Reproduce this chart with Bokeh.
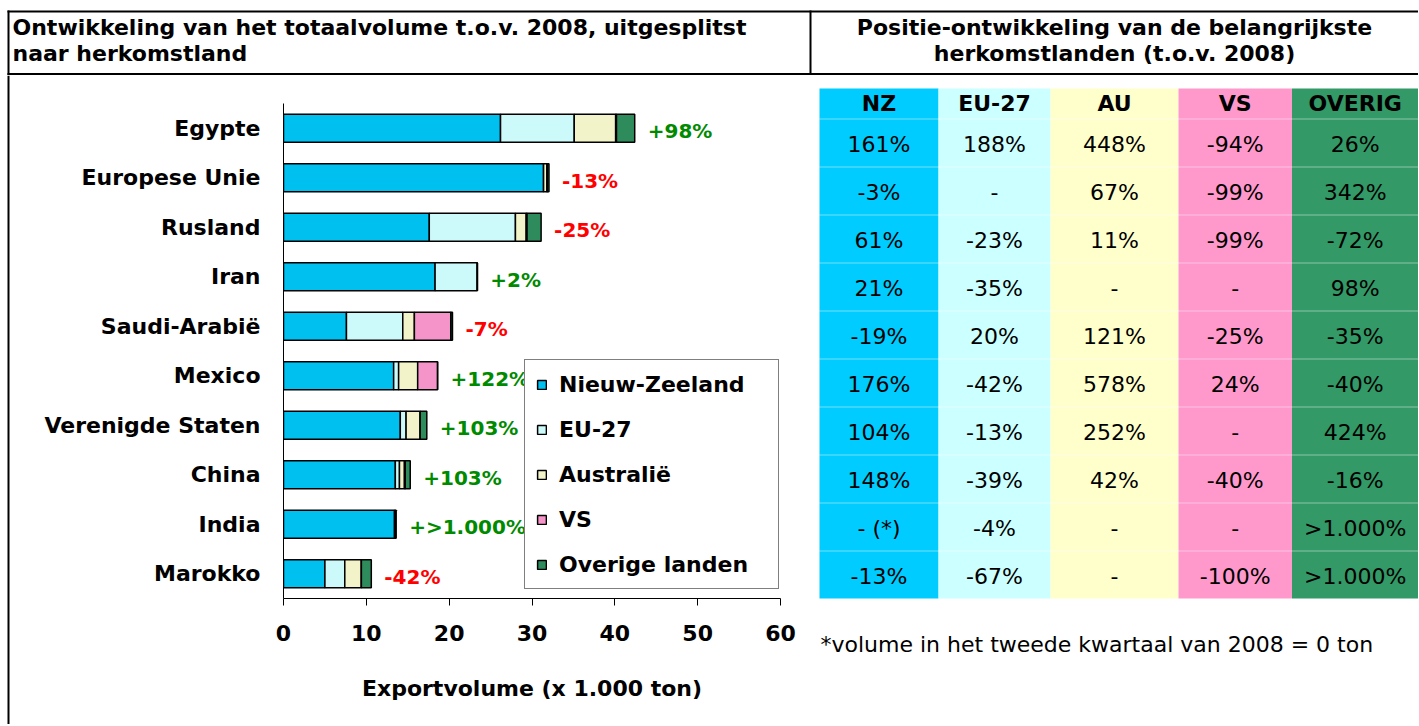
from bokeh.plotting import figure
from bokeh.models import (Range1d, FactorRange, ColumnDataSource, Legend, LegendItem,
                          SingleIntervalTicker)
from bokeh.layouts import row, column
from bokeh.embed import file_html
from bokeh.resources import INLINE
from bokeh.core.properties import value

# ---------------- data ----------------
countries = ["Egypte", "Europese Unie", "Rusland", "Iran", "Saudi-Arabië", "Mexico",
             "Verenigde Staten", "China", "India", "Marokko"]
nz = [26.2, 31.4, 17.6, 18.3, 7.6, 13.3, 14.1, 13.5, 13.4, 5.0]
eu27 = [8.9, 0.0, 10.4, 5.1, 6.8, 0.6, 0.7, 0.5, 0.1, 2.4]
au = [5.0, 0.4, 1.3, 0.0, 1.4, 2.3, 1.7, 0.6, 0.0, 2.0]
vs = [0.1, 0.05, 0.1, 0.0, 4.4, 2.4, 0.0, 0.1, 0.0, 0.0]
overig = [2.2, 0.2, 1.7, 0.0, 0.2, 0.0, 0.8, 0.6, 0.1, 1.2]
change_labels = ["+98%", "-13%", "-25%", "+2%", "-7%", "+122%", "+103%", "+103%",
                 "+>1.000%", "-42%"]
series_names = ["Nieuw-Zeeland", "EU-27", "Australië", "VS", "Overige landen"]
x_ticks_interval = 10

table_cols = ["NZ", "EU-27", "AU", "VS", "OVERIG"]
nz_pct = ["161%", "-3%", "61%", "21%", "-19%", "176%", "104%", "148%", "- (*)", "-13%"]
eu_pct = ["188%", "-", "-23%", "-35%", "20%", "-42%", "-13%", "-39%", "-4%", "-67%"]
au_pct = ["448%", "67%", "11%", "-", "121%", "578%", "252%", "42%", "-", "-"]
vs_pct = ["-94%", "-99%", "-99%", "-", "-25%", "24%", "-", "-40%", "-", "-100%"]
ov_pct = ["26%", "342%", "-72%", "98%", "-35%", "-40%", "424%", "-16%", ">1.000%", ">1.000%"]

title_left = ["Ontwikkeling van het totaalvolume t.o.v. 2008, uitgesplitst",
              "naar herkomstland"]
title_right = ["Positie-ontwikkeling van de belangrijkste",
               "herkomstlanden (t.o.v. 2008)"]
footnote = "*volume in het tweede kwartaal van 2008 = 0 ton"
x_label = "Exportvolume (x 1.000 ton)"

# ---------------- style / layout ----------------
FONT = "DejaVu Sans"
bar_colors = ["#00C0F0", "#CCF9F9", "#F3F3C9", "#F494C8", "#2E8B5B"]
table_colors = ["#00CCFF", "#CCFFFF", "#FFFFCC", "#FF99CC", "#339966"]
GREEN = "#008A00"
RED = "#FF0000"

W_TOTAL = 1418
H_HDR = 75
H_BODY = 649
W_STRIP = 10
W_CHART = 808
W_TBL = W_TOTAL - W_STRIP - W_CHART


def blank(width, height, xr, yr, **kw):
    f = figure(width=width, height=height, x_range=xr, y_range=yr, min_border=0,
               x_axis_type=None, y_axis_type=None, outline_line_color=None,
               toolbar_location=None, output_backend="svg", frame_align=False, **kw)
    return f


# ---------------- header ----------------
hdr = blank(W_TOTAL, H_HDR, Range1d(0, W_TOTAL), Range1d(H_HDR, 0))
hdr.segment(x0=[7, 7, 8, 810], y0=[11, 73.5, 10, 10], x1=[W_TOTAL, W_TOTAL, 8, 810],
            y1=[11, 73.5, H_HDR, 74], line_color="black", line_width=2)
hdr.text(x=[12, 12], y=[26.5, 52.5], text=title_left, text_font=value(FONT),
         text_font_style="bold", text_font_size="22px", text_baseline="alphabetic",
         text_align="left", text_color="black")
hdr.text(x=[1114, 1114], y=[26.5, 52.5], text=title_right, text_font=value(FONT),
         text_font_style="bold", text_font_size="22px", text_baseline="alphabetic",
         text_align="center", text_color="black")

# ---------------- left border strip ----------------
strip = blank(W_STRIP, H_BODY, Range1d(0, W_STRIP), Range1d(0, 1))
strip.quad(left=[7], right=[9], bottom=[0], top=[1], fill_color="black", line_color=None)

# ---------------- bar chart ----------------
keys = ["nz", "eu27", "au", "vs", "overig"]
totals = [a + b + c + d + e for a, b, c, d, e in zip(nz, eu27, au, vs, overig)]
src = ColumnDataSource(dict(country=countries, nz=nz, eu27=eu27, au=au, vs=vs, overig=overig,
                            total=totals, label=change_labels,
                            label_color=[GREEN if s.startswith("+") else RED for s in change_labels]))

chart = figure(width=W_CHART, height=H_BODY, x_range=Range1d(0, 60),
               y_range=FactorRange(factors=countries[::-1], range_padding=0),
               min_border_left=273, min_border_right=38, min_border_top=28, min_border_bottom=126,
               outline_line_color=None, toolbar_location=None, output_backend="svg",
               frame_align=False)
renderers = chart.hbar_stack(keys, y="country", height=0.57, fill_color=bar_colors,
                             line_color="black", line_width=1.5, source=src)
chart.text(x="total", y="country", text="label", text_color="label_color", source=src,
           x_offset=13, y_offset=3, text_font=value(FONT), text_font_style="bold",
           text_font_size="20px", text_baseline="middle", text_align="left")

chart.xgrid.visible = False
chart.ygrid.visible = False

xa = chart.xaxis[0]
xa.ticker = SingleIntervalTicker(interval=x_ticks_interval, num_minor_ticks=0)
xa.axis_label = x_label
xa.axis_label_text_font = FONT
xa.axis_label_text_font_style = "bold"
xa.axis_label_text_font_size = "22px"
xa.axis_label_text_color = "black"
xa.axis_label_standoff = 32
xa.major_label_text_font = FONT
xa.major_label_text_font_style = "bold"
xa.major_label_text_font_size = "22px"
xa.major_label_text_color = "black"
xa.major_label_standoff = 19
xa.major_tick_out = 7
xa.major_tick_in = 0
xa.minor_tick_line_color = None
xa.axis_line_color = "black"
xa.major_tick_line_color = "black"

ya = chart.yaxis[0]
ya.major_label_text_font = FONT
ya.major_label_text_font_style = "bold"
ya.major_label_text_font_size = "22px"
ya.major_label_text_color = "black"
ya.major_label_standoff = 17
ya.major_tick_line_color = None
ya.minor_tick_line_color = None
ya.axis_line_color = "black"

legend = Legend(items=[LegendItem(label=n, renderers=[r]) for n, r in zip(series_names, renderers)],
                location=(241, 9), padding=11, spacing=19, margin=0,
                glyph_width=11, glyph_height=11, label_standoff=12, label_height=26,
                label_width=208, border_line_color="black", border_line_width=1,
                background_fill_color="white", background_fill_alpha=1.0,
                label_text_font=FONT, label_text_font_style="bold",
                label_text_font_size="22px", label_text_color="black")
chart.add_layout(legend)

# ---------------- table ----------------
tbl = blank(W_TBL, H_BODY, Range1d(0, W_TBL), Range1d(H_BODY, 0))
col_left = [1, 120, 232, 360, 473.5]
col_right = [120, 232, 360, 473.5, W_TBL]
TOP, HDR_BOTTOM, ROW_H = 13, 43, 48
n_rows = len(nz_pct)
tbl.quad(left=col_left, right=col_right, top=[TOP] * 5, bottom=[HDR_BOTTOM + ROW_H * n_rows] * 5,
         fill_color=table_colors, line_color=None)
tbl.segment(x0=[1] * n_rows, x1=[W_TBL] * n_rows,
            y0=[HDR_BOTTOM + ROW_H * i + 0.5 for i in range(n_rows)],
            y1=[HDR_BOTTOM + ROW_H * i + 0.5 for i in range(n_rows)],
            line_color="white", line_alpha=0.45, line_width=1)
centers = [(l + r) / 2 for l, r in zip(col_left, col_right)]
tbl.text(x=centers, y=[HDR_BOTTOM - 15] * 5, text=table_cols, text_font=value(FONT),
         text_font_style="bold", text_font_size="22px", text_align="center",
         text_baseline="alphabetic", text_color="black")
cols_data = [nz_pct, eu_pct, au_pct, vs_pct, ov_pct]
tx, ty, tt = [], [], []
for j, colvals in enumerate(cols_data):
    for i, v in enumerate(colvals):
        tx.append(centers[j])
        ty.append(HDR_BOTTOM + ROW_H * i + 25.7)
        tt.append(v)
tbl.text(x=tx, y=ty, text=tt, text_font=value(FONT), text_font_size="22px",
         text_align="center", text_baseline="alphabetic", text_color="black")
tbl.text(x=[2], y=[569], text=[footnote], text_font=value(FONT), text_font_size="22px",
         text_align="left", text_baseline="alphabetic", text_color="black")

layout = column(hdr, row(strip, chart, tbl))
open("out.html", "w").write(file_html(layout, INLINE))
